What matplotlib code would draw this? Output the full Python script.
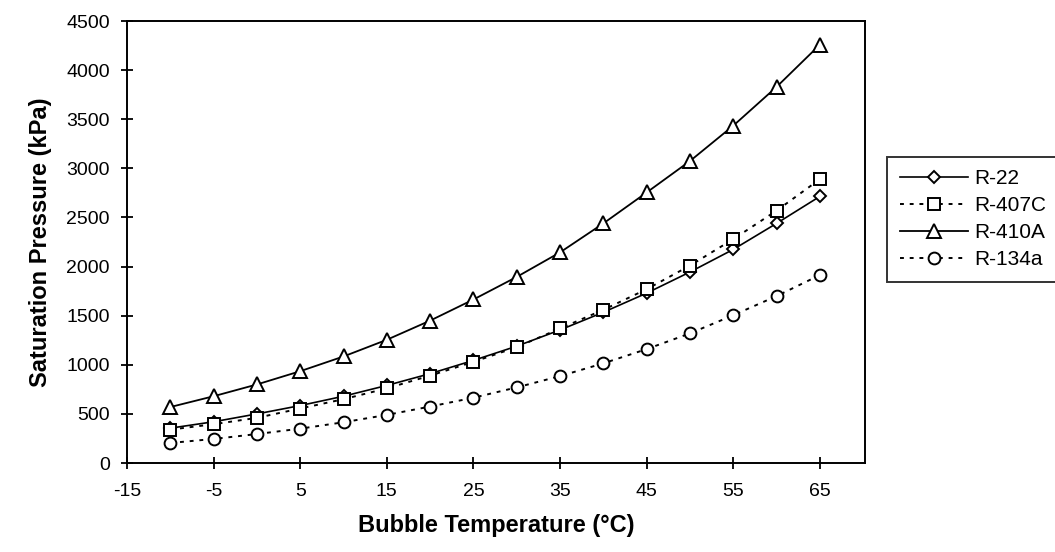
import matplotlib
matplotlib.use("Agg")
import matplotlib.pyplot as plt

plt.rcParams["font.family"] = ["Liberation Sans", "DejaVu Sans"]
plt.rcParams["axes.unicode_minus"] = False

temps = [-10, -5, 0, 5, 10, 15, 20, 25, 30, 35, 40, 45, 50, 55, 60, 65]
r22 = [355, 420, 500, 585, 680, 790, 910, 1045, 1190, 1355, 1535, 1730, 1945, 2175, 2440, 2715]
r407c = [340, 395, 460, 555, 650, 760, 890, 1030, 1180, 1370, 1560, 1770, 2010, 2280, 2570, 2890]
r410a = [570, 680, 800, 935, 1085, 1255, 1450, 1665, 1895, 2145, 2440, 2755, 3075, 3435, 3830, 4260]
r134a = [204, 245, 295, 350, 415, 490, 575, 665, 770, 885, 1015, 1160, 1320, 1505, 1700, 1914]

x_ticks = [-15, -5, 5, 15, 25, 35, 45, 55, 65]
y_ticks = [0, 500, 1000, 1500, 2000, 2500, 3000, 3500, 4000, 4500]

fig = plt.figure(figsize=(10.55, 5.52), dpi=100)
ax = fig.add_axes([0.1204, 0.1612, 0.6995, 0.8007])

mk = dict(markerfacecolor="white", markeredgecolor="black", markeredgewidth=1.4, color="black")
ax.plot(temps, r22, "-", marker="D", markersize=6, lw=1.2, label="R-22", **mk)
ax.plot(temps, r407c, linestyle=(0, (2, 3)), marker="s", markersize=8, lw=1.4, label="R-407C", **mk)
ax.plot(temps, r410a, "-", marker="^", markersize=9.5, lw=1.3, label="R-410A", **mk)
ax.plot(temps, r134a, linestyle=(0, (2, 3)), marker="o", markersize=8.5, lw=1.4, label="R-134a", **mk)

ax.set_xlim(-15, 70.2)
ax.set_ylim(0, 4500)
ax.set_xticks(x_ticks)
ax.set_yticks(y_ticks)
ax.tick_params(direction="inout", length=9, width=1.3, labelsize=14)
ax.tick_params(axis="x", pad=10)
ax.tick_params(axis="y", pad=8)
for s in ax.spines.values():
    s.set_linewidth(1.4)

ax.set_xlabel("Bubble Temperature (\u00b0C)", fontsize=17, fontweight="bold", labelpad=10)
ax.set_ylabel("Saturation Pressure (kPa)", fontsize=17, fontweight="bold", labelpad=10)

leg = fig.legend(loc="upper left", bbox_to_anchor=(0.8408, 0.716), frameon=True, fancybox=False,
                 edgecolor="black", fontsize=15, handlelength=3.3, labelspacing=0.38,
                 borderpad=0.6, handletextpad=0.3, borderaxespad=0)
leg.get_frame().set_linewidth(1.4)

fig.savefig("out.png", dpi=100)
